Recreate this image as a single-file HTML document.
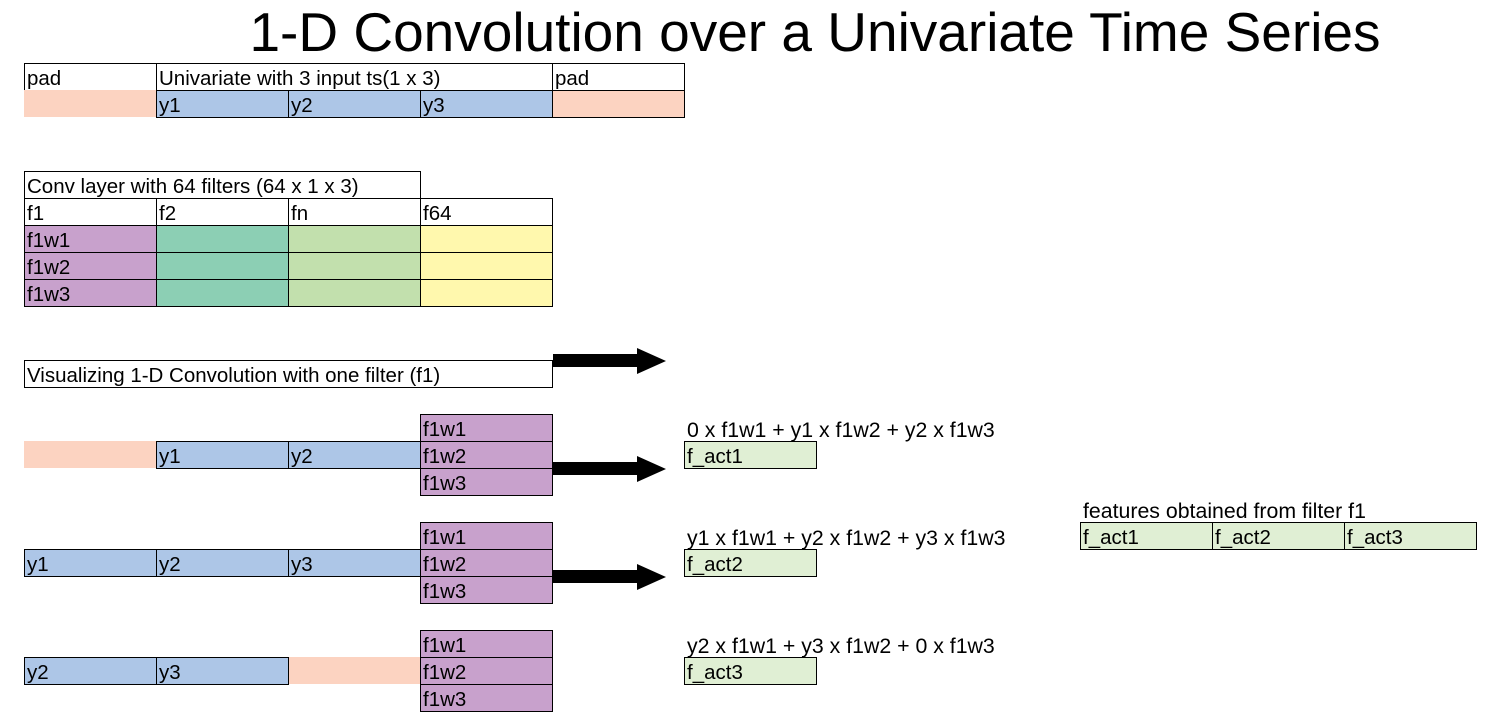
<!DOCTYPE html>
<html><head><meta charset="utf-8"><style>
body{margin:0;width:1507px;height:718px;background:#fff;position:relative;overflow:hidden;font-family:"Liberation Sans",sans-serif;}
.c{position:absolute;box-sizing:border-box;width:133px;height:28px;border:1px solid #000;font-size:20.5px;line-height:29px;padding-left:2px;white-space:nowrap;color:#000;overflow:visible;}
.t{position:absolute;font-size:21.3px;white-space:nowrap;line-height:22px;}
.p{background:#fcd3c1}.b{background:#adc6e7}.v{background:#c8a1cc}.g{background:#8ccfb4}.l{background:#c2e0ad}.y{background:#fff8ad}.a{background:#e0efd4}
.n{border:none}
</style></head><body>
<div style="position:absolute;left:0;width:1630px;top:0px;text-align:center;font-size:55px;line-height:64px;">1-D Convolution over a Univariate Time Series</div>

<div class="c" style="left:24px;top:63px">pad</div>
<div class="c" style="left:156px;top:63px;width:397px">Univariate with 3 input ts(1 x 3)</div>
<div class="c" style="left:552px;top:63px">pad</div>
<div class="c p n" style="left:24px;top:90px;width:132px;height:27px"></div>
<div class="c b" style="left:156px;top:90px">y1</div>
<div class="c b" style="left:288px;top:90px">y2</div>
<div class="c b" style="left:420px;top:90px">y3</div>
<div class="c p" style="left:552px;top:90px"></div>

<div class="c" style="left:24px;top:171px;width:397px">Conv layer with 64 filters (64 x 1 x 3)</div>
<div class="c" style="left:24px;top:198px">f1</div>
<div class="c" style="left:156px;top:198px">f2</div>
<div class="c" style="left:288px;top:198px">fn</div>
<div class="c" style="left:420px;top:198px">f64</div>
<div class="c v" style="left:24px;top:225px">f1w1</div><div class="c g" style="left:156px;top:225px"></div><div class="c l" style="left:288px;top:225px"></div><div class="c y" style="left:420px;top:225px"></div>
<div class="c v" style="left:24px;top:252px">f1w2</div><div class="c g" style="left:156px;top:252px"></div><div class="c l" style="left:288px;top:252px"></div><div class="c y" style="left:420px;top:252px"></div>
<div class="c v" style="left:24px;top:279px">f1w3</div><div class="c g" style="left:156px;top:279px"></div><div class="c l" style="left:288px;top:279px"></div><div class="c y" style="left:420px;top:279px"></div>

<div class="c" style="left:24px;top:360px;width:529px">Visualizing 1-D Convolution with one filter (f1)</div>

<div class="c p n" style="left:24px;top:441px;width:132px;height:27px"></div>
<div class="c b" style="left:156px;top:441px">y1</div>
<div class="c b" style="left:288px;top:441px">y2</div>
<div class="c v" style="left:420px;top:414px">f1w1</div>
<div class="c v" style="left:420px;top:441px">f1w2</div>
<div class="c v" style="left:420px;top:468px">f1w3</div>
<div class="t" style="left:687px;top:419px">0 x f1w1 + y1 x f1w2 + y2 x f1w3</div>
<div class="c a" style="left:684px;top:441px">f_act1</div>

<div class="c b" style="left:24px;top:549px">y1</div>
<div class="c b" style="left:156px;top:549px">y2</div>
<div class="c b" style="left:288px;top:549px">y3</div>
<div class="c v" style="left:420px;top:522px">f1w1</div>
<div class="c v" style="left:420px;top:549px">f1w2</div>
<div class="c v" style="left:420px;top:576px">f1w3</div>
<div class="t" style="left:687px;top:527px">y1 x f1w1 + y2 x f1w2 + y3 x f1w3</div>
<div class="c a" style="left:684px;top:549px">f_act2</div>

<div class="c b" style="left:24px;top:657px">y2</div>
<div class="c b" style="left:156px;top:657px">y3</div>
<div class="c p n" style="left:289px;top:657px;width:131px;height:27px"></div>
<div class="c v" style="left:420px;top:630px">f1w1</div>
<div class="c v" style="left:420px;top:657px">f1w2</div>
<div class="c v" style="left:420px;top:684px">f1w3</div>
<div class="t" style="left:687px;top:635px">y2 x f1w1 + y3 x f1w2 + 0 x f1w3</div>
<div class="c a" style="left:684px;top:657px">f_act3</div>

<div class="t" style="left:1083px;top:500px">features obtained from filter f1</div>
<div class="c a" style="left:1080px;top:522px">f_act1</div>
<div class="c a" style="left:1212px;top:522px">f_act2</div>
<div class="c a" style="left:1344px;top:522px;width:133px">f_act3</div>

<svg style="position:absolute;left:0;top:0" width="1507" height="718">
<g fill="#000">
<polygon points="553,354 637,354 637,348 666,361 637,374 637,367 553,367"/>
<polygon points="553,462 637,462 637,456 666,469 637,482 637,475 553,475"/>
<polygon points="553,570 637,570 637,564 666,577 637,590 637,583 553,583"/>
</g>
</svg>
</body></html>
